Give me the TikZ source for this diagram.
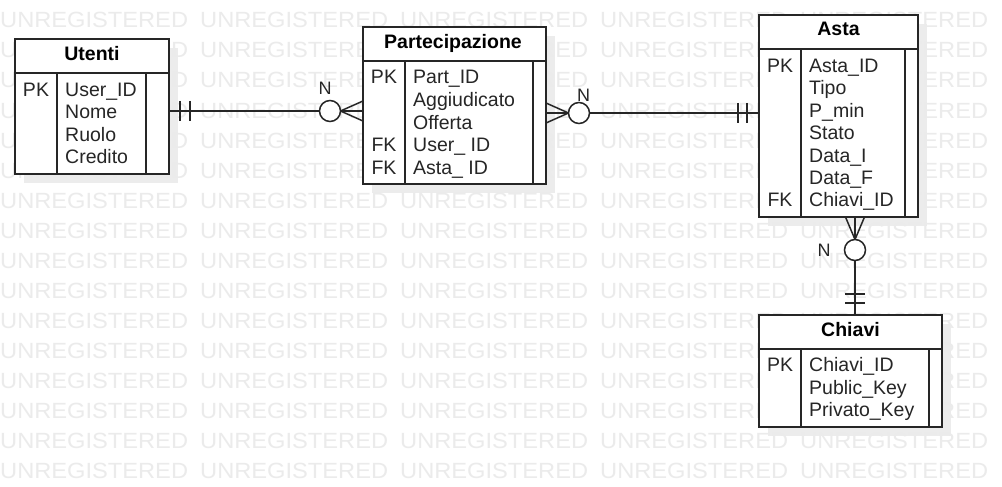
\documentclass[tikz,border=0pt]{standalone}
\usepackage{graphicx}
\usepackage{fontspec}
\setmainfont{Liberation Sans}
\definecolor{ln}{RGB}{38,38,38}
\definecolor{wm}{RGB}{235,235,235}
\definecolor{sh}{RGB}{236,236,236}
\newcommand{\wmtext}{\scalebox{1.075}[1]{UNREGISTERED}}
\tikzset{
  tbl/.style={draw=ln, line width=1.6pt, fill=white, anchor=north west, inner sep=0pt, outer sep=0pt},
  tline/.style={draw=ln, line width=1.6pt},
  shd/.style={fill=sh, draw=none},
  fld/.style={anchor=base west, inner sep=0pt, text=ln, font=\fontsize{19.5}{22}\selectfont},
  keyl/.style={anchor=base, inner sep=0pt, text=ln, font=\fontsize{19.5}{22}\selectfont},
  hdr/.style={anchor=base, inner sep=0pt, text=black, font=\bfseries\fontsize{19.5}{22}\selectfont},
  wmk/.style={anchor=base west, inner sep=0pt, text=wm, font=\fontsize{22}{22}\selectfont},
  conn/.style={draw=ln, line width=1.5pt},
  circ/.style={circle, draw=ln, line width=1.5pt, fill=white, minimum size=21pt, inner sep=0pt, outer sep=0pt},
  nlab/.style={anchor=base, inner sep=0pt, text=ln, font=\fontsize{18}{18}\selectfont}
}
\begin{document}
\begin{tikzpicture}[x=1pt, y=-1pt]
\useasboundingbox (0,0) rectangle (1002,487);
\fill[white] (0,0) rectangle (1002,487);
% shadows
\fill[shd] (24,48) rectangle (178,183);
\fill[shd] (372,36) rectangle (555,193);
\fill[shd] (768,24) rectangle (927,226);
\fill[shd] (768,324) rectangle (951,436);
% watermark
\foreach \r in {0,...,15} {
  \foreach \c in {0,...,4} {
    \node[wmk] (wm-\r-\c) at (200*\c, 28+30*\r) {\wmtext};
  }
}

% ---------- Utenti ----------
\node[tbl, minimum width=154pt, minimum height=135pt] (utenti) at (15,39) {};
\draw[tline] (utenti.west |- 0,73) -- (utenti.east |- 0,73);
\draw[tline] (57,73) -- (57,174);
\draw[tline] (146,73) -- (146,174);
\node[hdr] (utenti-h) at (92,61) {Utenti};
\node[keyl] (utenti-k1) at (36,96) {PK};
\node[fld] (utenti-f1) at (65,96) {User\_ID};
\node[fld] (utenti-f2) at (65,118.5) {Nome};
\node[fld] (utenti-f3) at (65,141) {Ruolo};
\node[fld] (utenti-f4) at (65,163.5) {Credito};

% ---------- Partecipazione ----------
\node[tbl, minimum width=183pt, minimum height=157pt] (part) at (363,27) {};
\draw[tline] (part.west |- 0,61) -- (part.east |- 0,61);
\draw[tline] (405,61) -- (405,184);
\draw[tline] (533,61) -- (533,184);
\node[hdr] (part-h) at (453,48.3) {Partecipazione};
\node[keyl] (part-k1) at (384,84) {PK};
\node[keyl] (part-k4) at (384,151.5) {FK};
\node[keyl] (part-k5) at (384,174) {FK};
\node[fld] (part-f1) at (413,84) {Part\_ID};
\node[fld] (part-f2) at (413,106.5) {Aggiudicato};
\node[fld] (part-f3) at (413,129) {Offerta};
\node[fld] (part-f4) at (413,151.5) {User\_ ID};
\node[fld] (part-f5) at (413,174) {Asta\_ ID};

% ---------- Asta ----------
\node[tbl, minimum width=159pt, minimum height=202pt] (asta) at (759,15) {};
\draw[tline] (asta.west |- 0,49) -- (asta.east |- 0,49);
\draw[tline] (801,49) -- (801,217);
\draw[tline] (905,49) -- (905,217);
\node[hdr] (asta-h) at (838.5,36) {Asta};
\node[keyl] (asta-k1) at (780,72.5) {PK};
\node[keyl] (asta-k7) at (780,206.9) {FK};
\node[fld] (asta-f1) at (809,72.5) {Asta\_ID};
\node[fld] (asta-f2) at (809,94.9) {Tipo};
\node[fld] (asta-f3) at (809,117.3) {P\_min};
\node[fld] (asta-f4) at (809,139.7) {Stato};
\node[fld] (asta-f5) at (809,162.1) {Data\_I};
\node[fld] (asta-f6) at (809,184.5) {Data\_F};
\node[fld] (asta-f7) at (809,206.9) {Chiavi\_ID};

% ---------- Chiavi ----------
\node[tbl, minimum width=183pt, minimum height=112pt] (chiavi) at (759,315) {};
\draw[tline] (chiavi.west |- 0,349) -- (chiavi.east |- 0,349);
\draw[tline] (801,349) -- (801,427);
\draw[tline] (929,349) -- (929,427);
\node[hdr] (chiavi-h) at (850.5,336.7) {Chiavi};
\node[keyl] (chiavi-k1) at (780,371.7) {PK};
\node[fld] (chiavi-f1) at (809,371.7) {Chiavi\_ID};
\node[fld] (chiavi-f2) at (809,394.2) {Public\_Key};
\node[fld] (chiavi-f3) at (809,416.7) {Privato\_Key};

% ---------- Utenti -- Partecipazione ----------
\node[circ] (o1) at (330,111) {};
\draw[conn] (utenti.east |- o1) -- (o1.west);
\draw[conn] (180,101) -- (180,121);
\draw[conn] (190,101) -- (190,121);
\draw[conn] (o1.east) -- (part.west |- 0,101);
\draw[conn] (o1.east) -- (part.west |- o1);
\draw[conn] (o1.east) -- (part.west |- 0,121);
\node[nlab] (n1) at (325,94.3) {N};

% ---------- Partecipazione -- Asta ----------
\node[circ] (o2) at (579,113) {};
\draw[conn] (o2.east) -- (asta.west |- o2);
\draw[conn] (738,103) -- (738,123);
\draw[conn] (747,103) -- (747,123);
\draw[conn] (o2.west) -- (part.east |- 0,103);
\draw[conn] (o2.west) -- (part.east |- o2);
\draw[conn] (o2.west) -- (part.east |- 0,123);
\node[nlab] (n2) at (583.5,101.7) {N};

% ---------- Asta -- Chiavi ----------
\node[circ] (o3) at (855,250) {};
\draw[conn] (o3.south) -- (chiavi.north -| o3);
\draw[conn] (845,294) -- (865,294);
\draw[conn] (845,303) -- (865,303);
\draw[conn] (o3.north) -- (845.5,217);
\draw[conn] (o3.north) -- (asta.south -| o3);
\draw[conn] (o3.north) -- (864.5,217);
\node[nlab] (n3) at (824,256.7) {N};
\end{tikzpicture}
\end{document}
